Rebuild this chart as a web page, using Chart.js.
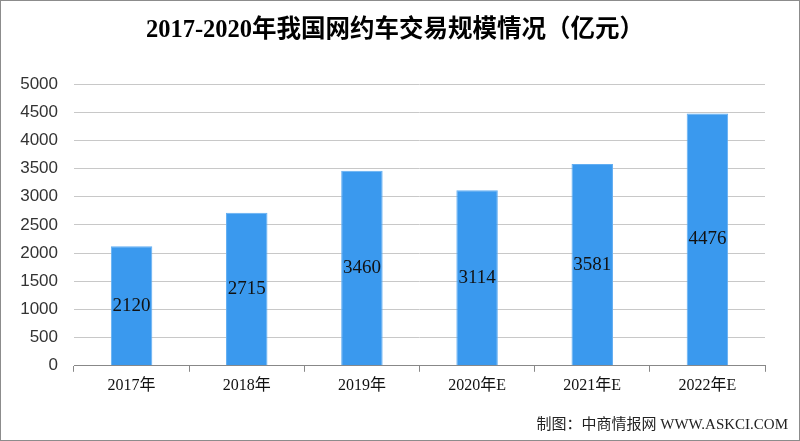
<!DOCTYPE html>
<html>
<head>
<meta charset="utf-8">
<script src="https://cdn.jsdelivr.net/npm/chart.js@4"></script>
<style>
  html, body { margin: 0; padding: 0; background: #fff; }
  #wrap { width: 800px; height: 441px; position: relative; }
</style>
</head>
<body>
<div id="wrap"><canvas id="myChart" width="800" height="441"></canvas></div>
<script>
// datos del gráfico
const categorias = ['2017年', '2018年', '2019年', '2020年E', '2021年E', '2022年E'];
const valores = [2120, 2715, 3460, 3114, 3581, 4476];
const ticksY = [0, 500, 1000, 1500, 2000, 2500, 3000, 3500, 4000, 4500, 5000];
const titulo = '2017-2020年我国网约车交易规模情况（亿元）';
const fuente = '制图：中商情报网 WWW.ASKCI.COM';

const serif = '"Liberation Serif", "DejaVu Serif", "Noto Sans CJK SC", serif';

// etiquetas dentro de las barras, título, fuente y marco
const extras = {
  id: 'extras',
  afterDatasetsDraw(chart) {
    const ctx = chart.ctx;
    const meta = chart.getDatasetMeta(0);
    ctx.save();
    ctx.font = '19px ' + serif;
    ctx.fillStyle = '#111';
    ctx.textAlign = 'center';
    ctx.textBaseline = 'middle';
    meta.data.forEach((bar, i) => {
      const y = (bar.y + bar.base) / 2;
      ctx.fillText(String(valores[i]), bar.x, y);
    });
    ctx.restore();
  },
  afterDraw(chart) {
    const ctx = chart.ctx;
    ctx.save();
    // título centrado en la imagen
    ctx.font = 'bold 24.5px ' + serif;
    ctx.fillStyle = '#000';
    ctx.textAlign = 'center';
    ctx.textBaseline = 'middle';
    ctx.fillText(titulo, 395, 31);
    // fuente
    ctx.font = '15px ' + serif;
    ctx.fillStyle = '#222';
    ctx.textAlign = 'right';
    ctx.fillText(fuente, 788, 425);
    // marco
    ctx.strokeStyle = '#8c8c8c';
    ctx.lineWidth = 1;
    ctx.strokeRect(0.5, 0.5, 799, 440);
    ctx.restore();
  }
};

const ctx = document.getElementById('myChart').getContext('2d');
new Chart(ctx, {
  type: 'bar',
  data: {
    labels: categorias,
    datasets: [{
      data: valores,
      backgroundColor: '#3a99ee',
      borderColor: '#62aef2',
      borderWidth: 1,
      categoryPercentage: 1,
      barPercentage: 0.36
    }]
  },
  options: {
    responsive: false,
    animation: false,
    layout: { padding: { left: 0, right: 35, top: 84, bottom: 42 } },
    scales: {
      x: {
        grid: {
          display: true,
          drawOnChartArea: false,
          drawTicks: true,
          tickLength: 6,
          offset: true,
          color: '#888'
        },
        border: { display: true, color: '#888' },
        ticks: {
          color: '#111',
          font: { size: 16, family: serif },
          padding: 4
        }
      },
      y: {
        min: 0,
        max: 5000,
        afterBuildTicks(axis) { axis.ticks = ticksY.map(v => ({ value: v })); },
        afterFit(axis) { axis.width = 74; },
        grid: { color: '#c8c8c8', drawTicks: false, lineWidth: 1 },
        border: { display: false },
        ticks: {
          color: '#333',
          font: { size: 17, family: 'Arial, "Liberation Sans", sans-serif' },
          padding: 16,
          callback: v => String(v)
        }
      }
    },
    plugins: {
      legend: { display: false },
      tooltip: { enabled: false },
      title: { display: false }
    }
  },
  plugins: [extras]
});
</script>
</body>
</html>
